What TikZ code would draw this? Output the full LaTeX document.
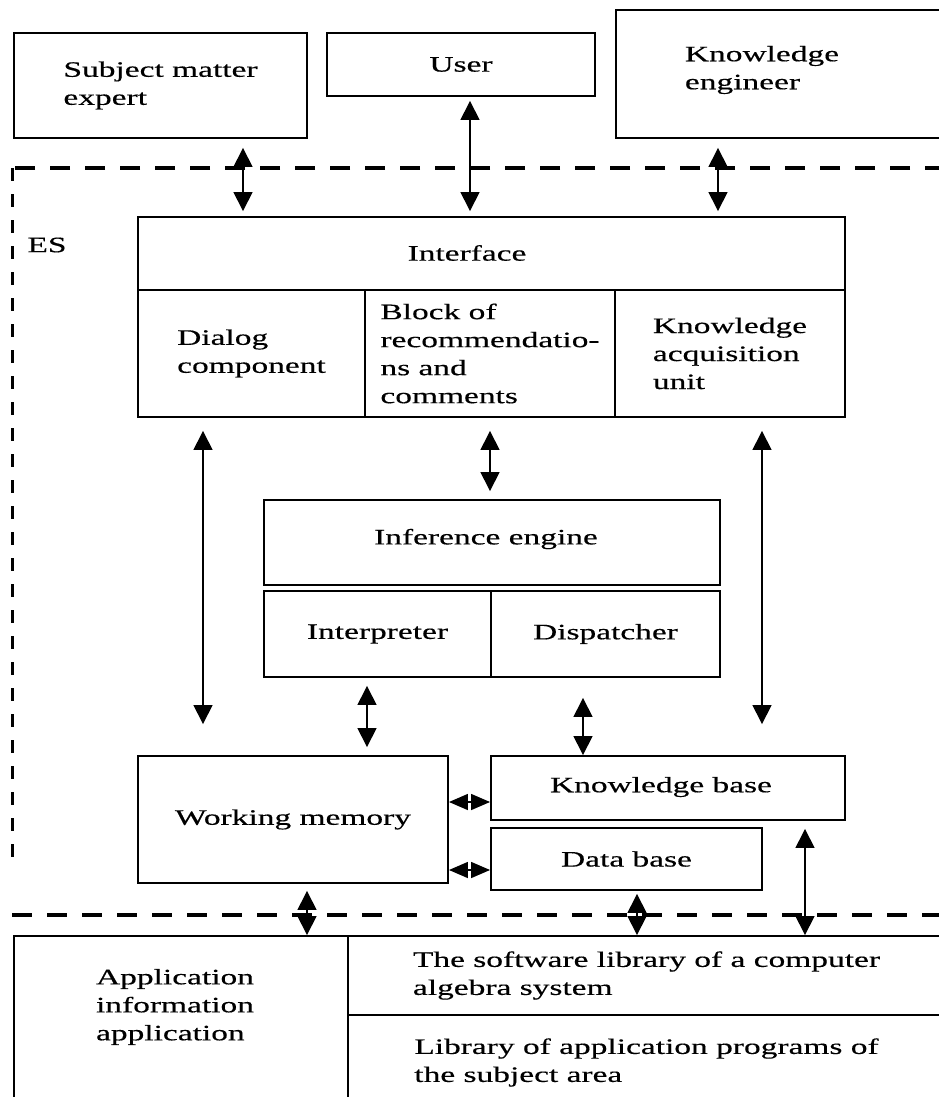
\documentclass[tikz,border=0pt]{standalone}
\usepackage{fontspec}
\setmainfont{Liberation Serif}[FakeStretch=1.52,FakeBold=0.4]
\usetikzlibrary{arrows.meta}
\begin{document}
\begin{tikzpicture}[x=1pt,y=-1pt,
  box/.style={draw, line width=1.9pt, inner sep=0pt, align=left},
  txt/.style={inner sep=0pt, align=left},
  dbl/.style={line width=1.5pt, {Triangle[length=19pt,width=19pt]}-{Triangle[length=19pt,width=19pt]}},
  dblh/.style={line width=1.5pt, {Triangle[length=19pt,width=16pt]}-{Triangle[length=19pt,width=16pt]}},
  bndh/.style={line width=3.8pt, dash pattern=on 20pt off 15pt},
  bndv/.style={line width=3pt, dash pattern=on 13pt off 13pt},
  font=\fontsize{22}{28}\selectfont]
\useasboundingbox (0,0) rectangle (939,1097);
\clip (0,0) rectangle (939,1097);

% top actors
\node[box, minimum width=293pt, minimum height=105pt] (sme) at (160.5,85.5) {Subject matter\\expert};
\node[box, minimum width=268pt, minimum height=63pt] (user) at (461,64.5) {User};
\node[box, minimum width=329pt, minimum height=128pt] (ke) at (780.5,74) {};
\node[txt] (ketxt) at (762,70) {Knowledge\\engineer};

% ES boundary
\draw[bndh] (945,168) -- (12,168);
\draw[bndv] (12,168) -- (12,858);
\draw[bndh] (12,915) -- (945,915);
\node[txt] (es) at (47,245) {ES};

% interface
\node[box, minimum width=707pt, minimum height=73pt] (iface) at (491.5,253.5) {};
\node[txt] (ifacetxt) at (467,253) {Interface};
\node[box, minimum width=227pt, minimum height=127pt] (dlg) at (251.5,353.5) {Dialog\\component};
\node[box, minimum width=250pt, minimum height=127pt] (blk) at (490,353.5) {Block of\\recommendatio-\\ns and\\comments};
\node[box, minimum width=230pt, minimum height=127pt] (kau) at (730,353.5) {Knowledge\\acquisition\\unit};

% inference engine
\node[box, minimum width=456pt, minimum height=85pt] (inf) at (492,542.5) {};
\node[txt] (inftxt) at (486,539) {Inference engine};
\node[box, minimum width=227pt, minimum height=86pt] (interp) at (377.5,634) {Interpreter};
\node[box, minimum width=229pt, minimum height=86pt] (disp) at (605.5,634) {Dispatcher};

% memory and bases
\node[box, minimum width=310pt, minimum height=127pt] (wm) at (293,819.5) {Working memory};
\node[box, minimum width=354pt, minimum height=64pt] (kb) at (668,788) {};
\node[txt] (kbtxt) at (661,787) {Knowledge base};
\node[box, minimum width=271pt, minimum height=62pt] (db) at (626.5,859) {Data base};

% bottom
\node[box, minimum width=334pt, minimum height=184pt] (app) at (181,1028) {};
\node[txt] (apptxt) at (175,1007) {Application\\information\\application};
\node[box, minimum width=597pt, minimum height=79pt] (swl) at (646.5,975.5) {The software library of a computer\\algebra system};
\node[box, minimum width=597pt, minimum height=95pt] (lap) at (646.5,1062.5) {Library of application programs of\\the subject area};

% connector columns
\coordinate (c1) at (243,0);
\coordinate (c2) at (470,0);
\coordinate (c3) at (718,0);
\coordinate (c4) at (203,0);
\coordinate (c5) at (490,0);
\coordinate (c6) at (762,0);
\coordinate (c7) at (367,0);
\coordinate (c8) at (583,0);
\coordinate (c9) at (307,0);
\coordinate (c10) at (637,0);
\coordinate (c11) at (805,0);
\coordinate (r1) at (0,802);
\coordinate (r2) at (0,870);

\draw[dbl, shorten <=9pt, shorten >=5pt] (c1 |- sme.south) -- (c1 |- iface.north);
\draw[dbl, shorten <=4pt, shorten >=5pt] (c2 |- user.south) -- (c2 |- iface.north);
\draw[dbl, shorten <=9pt, shorten >=5pt] (c3 |- ke.south) -- (c3 |- iface.north);

\draw[dbl, shorten <=13pt, shorten >=31pt] (c4 |- dlg.south) -- (c4 |- wm.north);
\draw[dbl, shorten <=13pt, shorten >=8pt] (c5 |- blk.south) -- (c5 |- inf.north);
\draw[dbl, shorten <=13pt, shorten >=31pt] (c6 |- kau.south) -- (c6 |- kb.north);

\draw[dbl, shorten <=8pt, shorten >=8pt] (c7 |- interp.south) -- (c7 |- wm.north);
\draw[dbl, shorten <=20pt] (c8 |- disp.south) -- (c8 |- kb.north);

\draw[dblh] (r1 -| wm.east) -- (r1 -| kb.west);
\draw[dblh] (r2 -| wm.east) -- (r2 -| db.west);

\draw[dbl, shorten <=7pt] (c9 |- wm.south) -- (c9 |- app.north);
\draw[dbl, shorten <=3pt] (c10 |- db.south) -- (c10 |- swl.north);
\draw[dbl, shorten <=8pt] (c11 |- kb.south) -- (c11 |- swl.north);
\end{tikzpicture}
\end{document}
